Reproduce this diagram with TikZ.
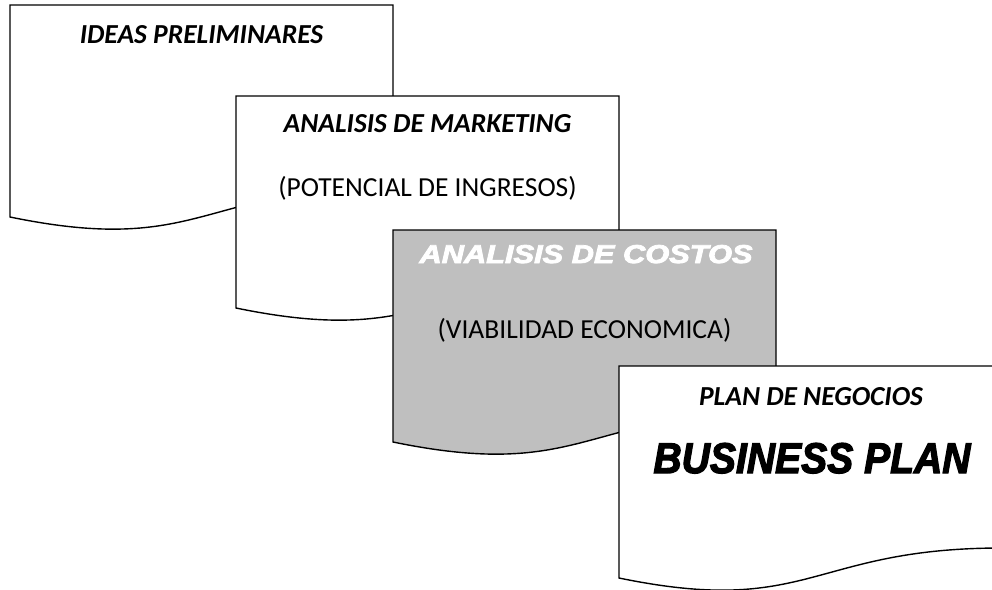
\documentclass[tikz,border=0pt]{standalone}
\usepackage{fontspec}
\setmainfont{Carlito}
\newfontfamily\heavyfont[BoldItalicFeatures={FakeBold=3}]{Liberation Sans}
\newcommand\docshape[3]{%
  \draw[docline,fill=#3] (#1,#2) -- ++(383,0) -- ++(0,182)
    .. controls (#1+191.5,#2+182) and (#1+191.5,#2+251.5) .. (#1,#2+212) -- cycle;}
\begin{document}
\begin{tikzpicture}[x=1pt,y=-1pt,
  docline/.style={draw=black,line width=1.4pt,line join=miter},
  ttl/.style={anchor=base,font=\fontsize{27.5}{32}\selectfont\bfseries\itshape,inner sep=0pt},
  sub/.style={anchor=base,font=\fontsize{27.5}{32}\selectfont,inner sep=0pt},
  big/.style={anchor=base,inner sep=0pt}]
\useasboundingbox (0,0) rectangle (992,589);
\clip (0,0) rectangle (992,589);
\docshape{10}{5}{white}
\node[ttl] (t1) at (201.5,43) {IDEAS PRELIMINARES};
\docshape{236}{96}{white}
\node[ttl] (t2) at (427.5,132) {ANALISIS DE MARKETING};
\node[sub] (s2) at (427.5,196) {(POTENCIAL DE INGRESOS)};
\docshape{393}{230}{gray!50!white!50!lightgray}
\node[big,text=white] (t3) at (586,263) {\resizebox{333pt}{18pt}{\heavyfont\bfseries\itshape ANALISIS DE COSTOS}};
\node[sub] (s3) at (584.5,338) {(VIABILIDAD ECONOMICA)};
\docshape{619}{366}{white}
\node[ttl] (t4) at (811,405) {PLAN DE NEGOCIOS};
\node[big] (b4) at (812,473) {\resizebox{317pt}{30pt}{\heavyfont\bfseries\itshape BUSINESS PLAN}};
\end{tikzpicture}
\end{document}
